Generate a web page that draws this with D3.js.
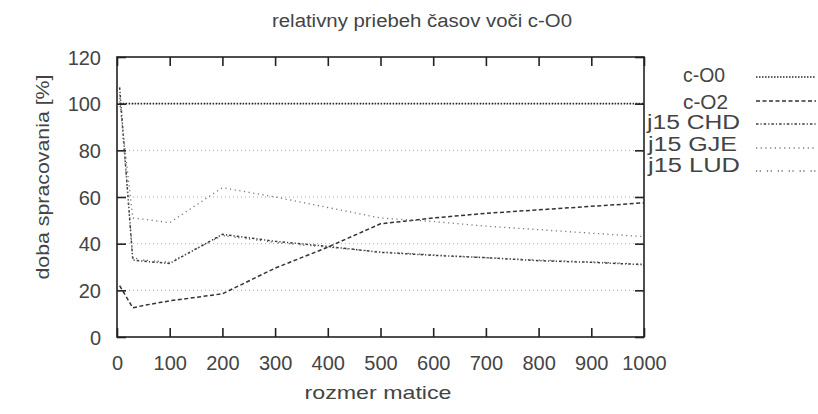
<!DOCTYPE html>
<html>
<head>
<meta charset="utf-8">
<script src="https://cdn.jsdelivr.net/npm/d3@7"></script>
<style>
  body { margin: 0; background: #fff; }
  text { font-family: "Liberation Sans", Arial, sans-serif; fill: #444; }
</style>
</head>
<body>
<script>
// matrix sizes (x axis)
var sizes = [5, 30, 50, 100, 200, 300, 400, 500, 600, 700, 800, 900, 1000];

// relative times in % of c-O0
var cO0    = [100, 100, 100, 100, 100, 100, 100, 100, 100, 100, 100, 100, 100];
var cO2    = [22, 12.5, 13.5, 15.5, 18.5, 29.5, 38.5, 48.5, 51, 53, 54.5, 56, 57.5];
var j15CHD = [107, 33, 32.5, 31.5, 44, 41, 38.8, 36.3, 35, 34, 32.7, 32, 31];
var j15GJE = [101, 51, 50.5, 49, 64, 60, 55.5, 51, 49.5, 47.5, 46, 44.5, 43];
var j15LUD = [104, 34, 33, 32, 43.5, 40.5, 38.5, 36.5, 35.2, 34, 33, 32.2, 31.2];

var seriesNames = ["c-O0", "c-O2", "j15 CHD", "j15 GJE", "j15 LUD"];
var seriesValues = [cO0, cO2, j15CHD, j15GJE, j15LUD];

var xTicks = [0, 100, 200, 300, 400, 500, 600, 700, 800, 900, 1000];
var yTicks = [0, 20, 40, 60, 80, 100, 120];

// line looks, scanned gnuplot style
var styles = [
    { dash: "1.5,1.5", color: "#2a2a2a", w: 1.6 },
    { dash: "4,2.5",   color: "#333",    w: 1.5 },
    { dash: "2.5,2,1.2,2", color: "#3c3c3c", w: 1.5 },
    { dash: "1.2,3.5", color: "#777",    w: 1.3 },
    { dash: "1.2,2.5,1.2,6", color: "#666", w: 1.3 }
];

var W = 818, H = 414;
var margin = { top: 57, right: 174, bottom: 77, left: 117 };
var width = W - margin.left - margin.right;
var height = H - margin.top - margin.bottom;

var svg = d3.select("body").append("svg")
    .attr("width", W)
    .attr("height", H);

var g = svg.append("g")
    .attr("transform", `translate(${margin.left}, ${margin.top})`);

var x = d3.scaleLinear().domain([0, 1000]).range([0, width]);
var y = d3.scaleLinear().domain([0, 120]).range([height, 0]);

// horizontal grid (faint dotted)
g.selectAll(".grid")
    .data(yTicks.filter((d) => d > 0 && d < 120))
    .enter()
    .append("line")
    .attr("x1", 0).attr("x2", width)
    .attr("y1", (d) => y(d)).attr("y2", (d) => y(d))
    .attr("stroke", "#aaa")
    .attr("stroke-width", 1)
    .attr("stroke-dasharray", "1,3");

// series lines
var line = d3.line()
    .x((d) => x(d[0]))
    .y((d) => y(d[1]));

seriesValues.forEach((vals, i) => {
    g.append("path")
        .datum(sizes.map((s, k) => [s, vals[k]]))
        .attr("d", line)
        .attr("fill", "none")
        .attr("stroke", styles[i].color)
        .attr("stroke-width", styles[i].w)
        .attr("stroke-dasharray", styles[i].dash);
});

// frame
g.append("rect")
    .attr("width", width).attr("height", height)
    .attr("fill", "none")
    .attr("stroke", "#222")
    .attr("stroke-width", 1.6);

// axes with inward ticks, mirrored on the other sides
var tl = 9;
var xAxis = g.append("g")
    .attr("transform", `translate(0, ${height})`)
    .call(d3.axisBottom(x).tickValues(xTicks).tickSize(-tl).tickPadding(tl + 10).tickFormat(d3.format("d")));
var xTop = g.append("g")
    .call(d3.axisTop(x).tickValues(xTicks).tickSize(-tl).tickFormat(""));
var yAxis = g.append("g")
    .call(d3.axisLeft(y).tickValues(yTicks).tickSize(-tl).tickPadding(tl + 7));
var yRight = g.append("g")
    .attr("transform", `translate(${width}, 0)`)
    .call(d3.axisRight(y).tickValues(yTicks).tickSize(-tl).tickFormat(""));

[xAxis, xTop, yAxis, yRight].forEach((a) => {
    a.select(".domain").remove();
    a.selectAll(".tick line").attr("stroke", "#222").attr("stroke-width", 1.6);
    a.selectAll("text").attr("font-size", "20px").attr("fill", "#444")
        .attr("font-family", "Liberation Sans, Arial, sans-serif");
});
yAxis.selectAll("text").attr("dy", "0.36em");

// title and axis labels
svg.append("text")
    .attr("x", 422).attr("y", 27)
    .attr("text-anchor", "middle")
    .attr("font-size", "18px")
    .attr("textLength", 300).attr("lengthAdjust", "spacingAndGlyphs")
    .text("relativny priebeh časov voči c-O0");

svg.append("text")
    .attr("x", 378).attr("y", 399)
    .attr("text-anchor", "middle")
    .attr("font-size", "19px")
    .attr("textLength", 147).attr("lengthAdjust", "spacingAndGlyphs")
    .text("rozmer matice");

svg.append("text")
    .attr("transform", "translate(49, 177) rotate(-90)")
    .attr("text-anchor", "middle")
    .attr("font-size", "19px")
    .attr("textLength", 205).attr("lengthAdjust", "spacingAndGlyphs")
    .text("doba spracovania [%]");

// legend (the scan is a bit uneven, so each entry has its own width)
var legTextY = [75, 101.5, 122, 143.5, 165];
var legLineY = [77, 101, 124, 148, 171];
var legRight = [725, 728, 740, 737, 740];
var legWidth = [42, 45, 93, 89, 92];
var legend = svg.append("g");
seriesNames.forEach((name, i) => {
    legend.append("text")
        .attr("x", legRight[i] - legWidth[i]).attr("y", legTextY[i])
        .attr("dy", "0.36em")
        .attr("font-size", "20px")
        .attr("textLength", legWidth[i]).attr("lengthAdjust", "spacingAndGlyphs")
        .text(name);
    legend.append("line")
        .attr("x1", 756).attr("x2", 816)
        .attr("y1", legLineY[i]).attr("y2", legLineY[i])
        .attr("stroke", styles[i].color)
        .attr("stroke-width", styles[i].w)
        .attr("stroke-dasharray", styles[i].dash);
});
</script>
</body>
</html>
